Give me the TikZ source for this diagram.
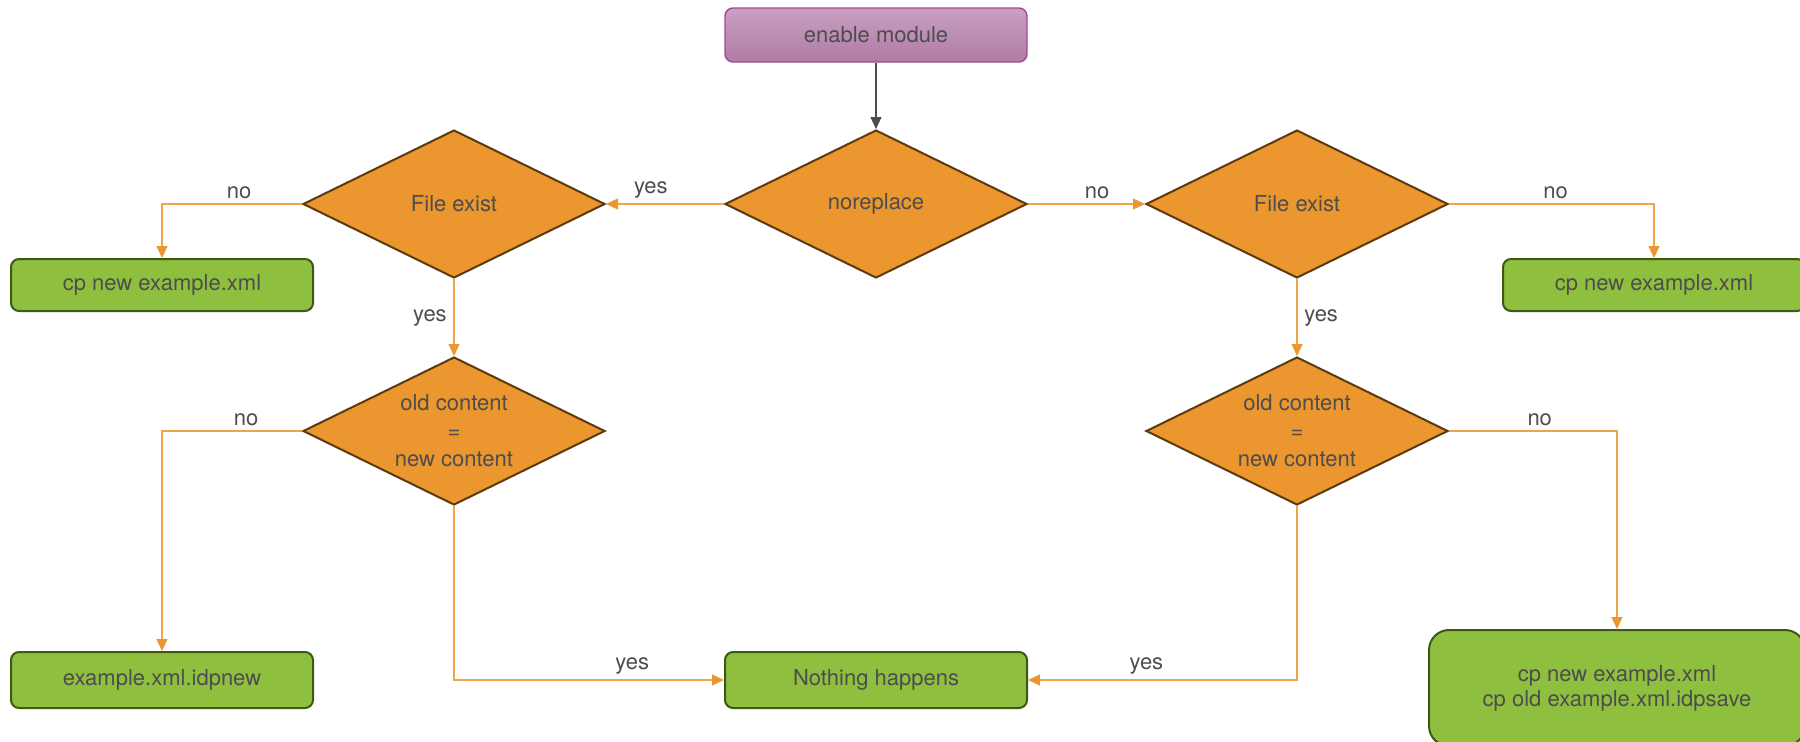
\documentclass[tikz,border=0pt]{standalone}
\usepackage{fontspec}
\setmainfont{TeX Gyre Heros}
\usetikzlibrary{arrows.meta,shapes.geometric}

\definecolor{decfill}{HTML}{EB962E}
\definecolor{decline}{HTML}{5C3A0E}
\definecolor{actfill}{HTML}{8FBF3F}
\definecolor{actline}{HTML}{3E5816}
\definecolor{starttop}{HTML}{C9A0C3}
\definecolor{startbot}{HTML}{B07BA4}
\definecolor{startline}{HTML}{9E4A92}
\definecolor{flow}{HTML}{F0A448}
\definecolor{txt}{HTML}{4D4D4D}

\begin{document}
\begin{tikzpicture}[
 x=0.5pt, y=-0.5pt,
 font=\fontsize{11}{14}\selectfont,
 every node/.style={text=txt},
 start/.style={draw=startline,line width=0.7pt,rounded corners=4pt,top color=starttop,bottom color=startbot,minimum width=151pt,minimum height=27pt},
 decision/.style={diamond,draw=decline,fill=decfill,line width=1pt,aspect=2.04,inner sep=0pt,minimum width=151pt,minimum height=74pt,align=center},
 action/.style={rectangle,draw=actline,fill=actfill,line width=1pt,rounded corners=4pt,minimum width=151pt,minimum height=26pt,align=center},
 flowline/.style={draw=flow,line width=0.6pt,-{Triangle[width=5.5pt,length=6pt,color=decfill]}},
 startline/.style={draw=txt,line width=0.6pt,-{Triangle[width=5.5pt,length=6pt,color=txt]}},
 answer/.style={above,yshift=-1pt},
]
\clip (0,0) rectangle (1800,741);

% Start
\node[start] (enable) at (876,35) {enable module};
\node[decision] (noreplace) at (876,204) {noreplace};

% File exist checks
\node[decision] (existL) at (454,204) {File exist};
\node[decision] (existR) at (1297,204) {File exist};
\node[action] (cpL) at (162,285) {cp new example.xml};
\node[action] (cpR) at (1654,285) {cp new example.xml};

% Content checks
\node[decision] (sameL) at (454,431) {old content\\=\\new content};
\node[decision] (sameR) at (1297,431) {old content\\=\\new content};

% Results
\node[action,minimum height=28pt] (idpnew) at (162,680) {example.xml.idpnew};
\node[action,minimum height=28pt] (nothing) at (876,680) {Nothing happens};
\node[action,rounded corners=10pt,minimum width=188pt,minimum height=58pt,font=\fontsize{11}{12.5}\selectfont] (idpsave) at (1617,688) {cp new example.xml\\cp old example.xml.idpsave};

\draw[startline] (enable) -- (noreplace);
\draw[flowline] (noreplace.west) -- node[answer,pos=0.62] {yes} (existL.east);
\draw[flowline] (noreplace.east) -- node[answer,pos=0.59] {no} (existR.west);

\foreach \from/\to/\pos in {existL/cpL/0.225, sameL/idpnew/0.2}
    \draw[flowline] (\from.west) -| node[answer,pos=\pos] {no} (\to.north);

\foreach \from/\to/\pos in {existR/cpR/0.26, sameR/idpsave/0.27}
    \draw[flowline] (\from.east) -| node[answer,pos=\pos] {no} (\to.north);

\foreach \from/\to/\side in {existL/sameL/left, existR/sameR/right}
    \draw[flowline] (\from.south) -- node[\side] {yes} (\to.north);

\draw[flowline] (sameL.south) |- node[answer,pos=0.83] {yes} (nothing.west);
\draw[flowline] (sameR.south) |- node[answer,pos=0.78] {yes} (nothing.east);

\end{tikzpicture}
\end{document}
